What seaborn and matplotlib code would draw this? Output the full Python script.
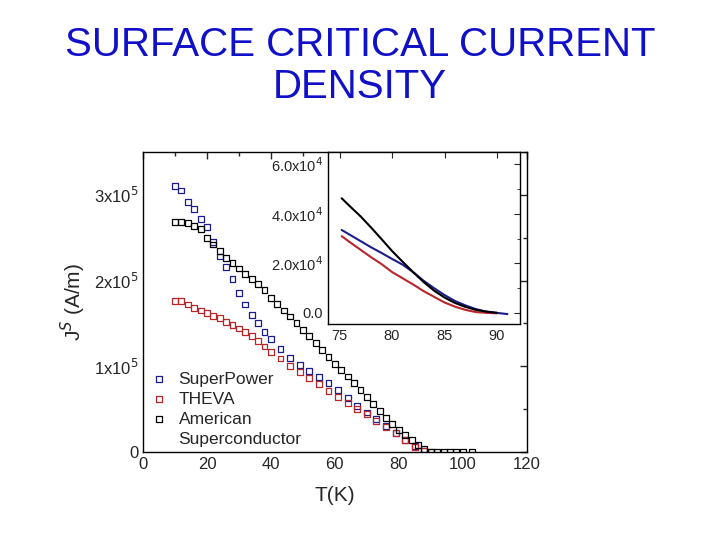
import numpy as np
import pandas as pd
import matplotlib
matplotlib.use('Agg')
import matplotlib.pyplot as plt
import seaborn as sns
from matplotlib.lines import Line2D
from matplotlib.ticker import MultipleLocator, FuncFormatter

# ------------------------------------------------------------
# 데이터
# ------------------------------------------------------------
# 본 그래프 : T(K) vs Js (A/m)
t_sp = [10, 12, 14, 16, 18, 20, 22, 24, 26, 28, 30, 32, 34, 36, 38, 40, 43, 46,
        49, 52, 55, 58, 61, 64, 67, 70, 73, 76, 79, 82, 85, 88]
j_sp = [3.10, 3.05, 2.92, 2.83, 2.72, 2.62, 2.45, 2.28, 2.16, 2.02, 1.85, 1.72,
        1.60, 1.50, 1.40, 1.32, 1.20, 1.10, 1.01, 0.94, 0.87, 0.80, 0.72, 0.63,
        0.54, 0.46, 0.38, 0.30, 0.22, 0.14, 0.07, 0.01]

t_th = [10, 12, 14, 16, 18, 20, 22, 24, 26, 28, 30, 32, 34, 36, 38, 40, 43, 46,
        49, 52, 55, 58, 61, 64, 67, 70, 73, 76, 79, 82, 85, 88, 90]
j_th = [1.76, 1.76, 1.72, 1.68, 1.65, 1.62, 1.59, 1.56, 1.52, 1.48, 1.44, 1.40,
        1.35, 1.29, 1.23, 1.17, 1.09, 1.00, 0.93, 0.86, 0.79, 0.71, 0.64, 0.57,
        0.50, 0.44, 0.36, 0.29, 0.22, 0.14, 0.06, 0.01, 0.0]

t_am = [10, 12, 14, 16, 18, 20, 22, 24, 26, 28, 30, 32, 34, 36, 38, 40, 42, 44,
        46, 48, 50, 52, 54, 56, 58, 60, 62, 64, 66, 68, 70, 72, 74, 76, 78, 80,
        82, 84, 86, 88, 90, 92, 94, 96, 98, 100, 103]
j_am = [2.68, 2.68, 2.67, 2.64, 2.60, 2.50, 2.42, 2.34, 2.26, 2.20, 2.14, 2.08,
        2.02, 1.96, 1.89, 1.80, 1.73, 1.65, 1.58, 1.50, 1.42, 1.35, 1.27, 1.19,
        1.11, 1.03, 0.96, 0.88, 0.80, 0.72, 0.64, 0.56, 0.48, 0.40, 0.33, 0.26,
        0.20, 0.14, 0.08, 0.03, 0.0, 0.0, 0.0, 0.0, 0.0, 0.0, 0.0]

# 인셋 : 75 ~ 91 K 확대 (단위 1e4 A/m)
ti_am = [75.2, 76, 77, 78, 79, 80, 81, 82, 83, 84, 85, 86, 87, 88, 89, 90]
ji_am = [4.63, 4.30, 3.90, 3.45, 2.98, 2.50, 2.07, 1.65, 1.25, 0.90, 0.62, 0.40,
         0.24, 0.12, 0.05, 0.0]
ti_sp = [75.2, 76, 77, 78, 79, 80, 81, 82, 83, 84, 85, 86, 87, 88, 89, 90, 91]
ji_sp = [3.35, 3.15, 2.90, 2.65, 2.42, 2.18, 1.95, 1.65, 1.30, 1.00, 0.72, 0.48,
         0.30, 0.15, 0.05, 0.0, -0.05]
ti_th = [75.2, 76, 77, 78, 79, 80, 81, 82, 83, 84, 85, 86, 87, 88, 89, 90]
ji_th = [3.10, 2.85, 2.55, 2.25, 1.97, 1.65, 1.40, 1.15, 0.88, 0.65, 0.42, 0.25,
         0.12, 0.03, 0.0, -0.02]

names = ['SuperPower', 'THEVA', 'American']
colors = ['#1c1c8c', '#b8262a', '#000000']

# ------------------------------------------------------------
# 그리기
# ------------------------------------------------------------
sns.set_style('white')
plt.rcParams['font.family'] = ['Liberation Sans', 'DejaVu Sans']

fig = plt.figure(figsize=(7.2, 5.4), dpi=100)
fig.text(0.5, 0.952, 'SURFACE CRITICAL CURRENT\nDENSITY', ha='center', va='top',
         fontsize=29, color='#1010c8', linespacing=1.15)

ax = fig.add_axes([0.1986, 0.163, 0.533, 0.5556])
main_sets = [(t_sp, j_sp), (t_th, j_th), (t_am, j_am)]
for (tt, jj), name, col in zip(main_sets, names, colors):
    sns.scatterplot(x=tt, y=np.array(jj) * 1e5, ax=ax, marker='s', s=32,
                    facecolor='none', edgecolor=col, linewidth=0.9, label=name)

ax.set_xlim(0, 120)
ax.set_ylim(0, 3.5e5)
ax.xaxis.set_major_locator(MultipleLocator(20))
ax.xaxis.set_minor_locator(MultipleLocator(10))
ax.yaxis.set_major_locator(MultipleLocator(1e5))
ax.yaxis.set_minor_locator(MultipleLocator(0.5e5))

def main_fmt(v, pos):
    if v == 0:
        return '0'
    return r'%dx10$^{5}$' % round(v / 1e5)

ax.yaxis.set_major_formatter(FuncFormatter(main_fmt))
ax.tick_params(which='both', direction='in', top=True, right=True,
               labelsize=12, width=1)
ax.tick_params(which='major', length=5)
ax.tick_params(which='minor', length=3)
for s in ax.spines.values():
    s.set_linewidth(1)
    s.set_color('black')
ax.set_xlabel('T(K)', fontsize=15, labelpad=10)
ax.set_ylabel(r'J$^S$ (A/m)', fontsize=15, labelpad=4)

# 범례 : 'Superconductor'는 마커 없는 둘째 줄
handles, labels = ax.get_legend_handles_labels()
for h in handles:
    h.set_sizes([18])
handles.append(Line2D([], [], linestyle='none', marker=None))
labels.append('Superconductor')
ax.legend(handles, labels, loc='lower left', bbox_to_anchor=(0.0, 0.0),
          frameon=False, fontsize=12.5, handlelength=1.2, handletextpad=0.55,
          labelspacing=0.28, borderpad=0.2, borderaxespad=0.1)

# 인셋
axi = fig.add_axes([0.4556, 0.4, 0.2667, 0.3185])
inset_sets = [(ti_sp, ji_sp), (ti_th, ji_th), (ti_am, ji_am)]
for (tt, jj), col in zip(inset_sets, colors):
    sns.lineplot(x=tt, y=np.array(jj) * 1e4, ax=axi, color=col, linewidth=1.5)

axi.set_xlim(73.9, 92.2)
axi.set_ylim(-4500, 6.5e4)
axi.xaxis.set_major_locator(MultipleLocator(5))
axi.yaxis.set_major_locator(MultipleLocator(2e4))
axi.yaxis.set_minor_locator(MultipleLocator(1e4))

def inset_fmt(v, pos):
    if v == 0:
        return '0.0'
    return r'%.1fx10$^{4}$' % (v / 1e4)

axi.yaxis.set_major_formatter(FuncFormatter(inset_fmt))
axi.tick_params(which='both', direction='in', top=True, right=True,
                labelsize=10.5)
axi.tick_params(which='major', length=4)
axi.tick_params(which='minor', length=2)
for s in axi.spines.values():
    s.set_linewidth(1)
    s.set_color('black')

fig.savefig('out.png', dpi=100)
